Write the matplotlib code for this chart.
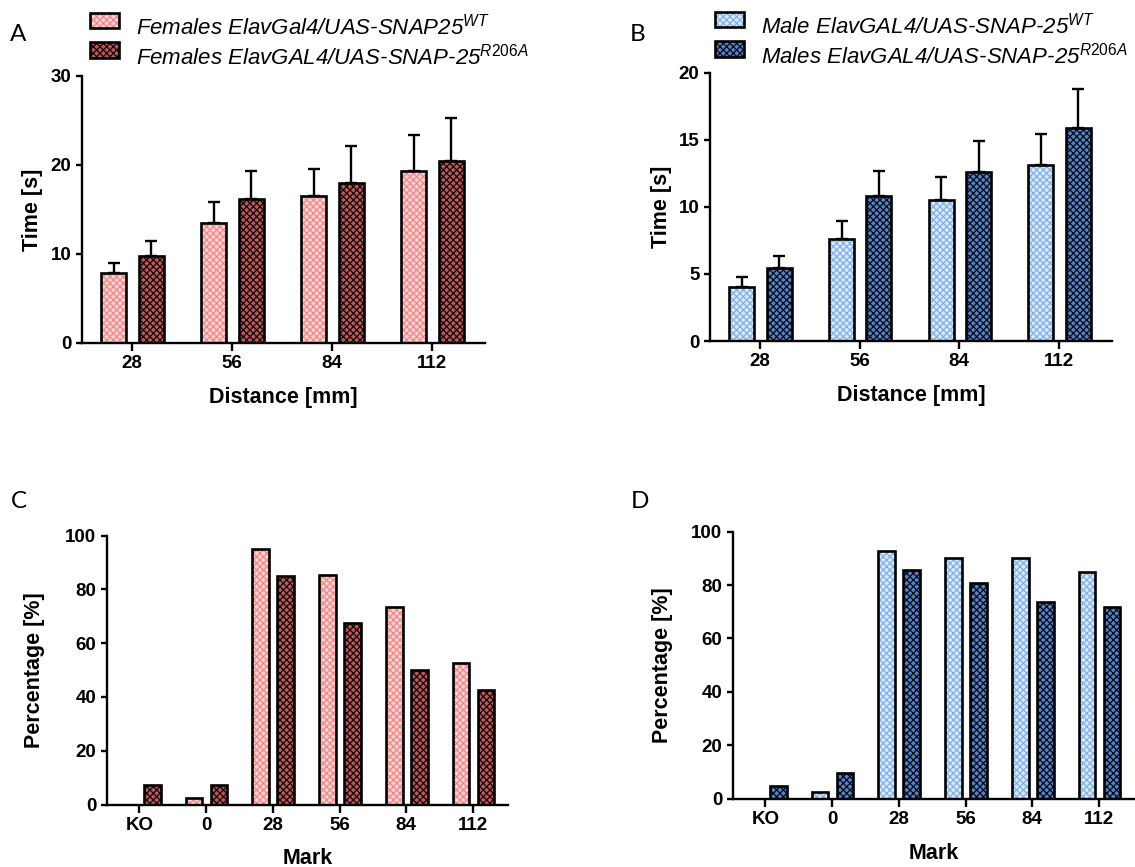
import matplotlib
matplotlib.use("Agg")
import matplotlib.pyplot as plt
from matplotlib.patches import Patch, Rectangle
from matplotlib.legend_handler import HandlerPatch
import numpy as np

# ---------------- data ----------------
dist_labels = ["28", "56", "84", "112"]
mark_labels = ["KO", "0", "28", "56", "84", "112"]

fem_wt_time = [7.8, 13.5, 16.5, 19.3]
fem_wt_err = [1.2, 2.3, 3.0, 4.1]
fem_r_time = [9.7, 16.2, 18.0, 20.4]
fem_r_err = [1.7, 3.1, 4.1, 4.9]

male_wt_time = [4.0, 7.6, 10.5, 13.1]
male_wt_err = [0.75, 1.35, 1.7, 2.3]
male_r_time = [5.45, 10.8, 12.6, 15.9]
male_r_err = [0.85, 1.9, 2.3, 2.9]

fem_wt_pct = [0, 2.5, 95.0, 85.3, 73.6, 52.6]
fem_r_pct = [7.4, 7.4, 84.9, 67.7, 50.2, 42.6]
male_wt_pct = [0, 2.5, 92.6, 90.0, 90.0, 85.0]
male_r_pct = [4.6, 9.5, 85.7, 80.9, 73.6, 71.7]

lab_fem_wt = r"Females ElavGal4/UAS-SNAP25$^{\mathit{WT}}$"
lab_fem_r = r"Females ElavGAL4/UAS-SNAP-25$^{\mathit{R206A}}$"
lab_male_wt = r"Male ElavGAL4/UAS-SNAP-25$^{\mathit{WT}}$"
lab_male_r = r"Males ElavGAL4/UAS-SNAP-25$^{\mathit{R206A}}$"

# ---------------- style ----------------
plt.rcParams["font.family"] = ["Liberation Sans", "DejaVu Sans"]
plt.rcParams["mathtext.fontset"] = "custom"
plt.rcParams["mathtext.rm"] = "Liberation Sans"
plt.rcParams["mathtext.it"] = "Liberation Sans:italic"
plt.rcParams["mathtext.bf"] = "Liberation Sans:bold"
plt.rcParams["hatch.linewidth"] = 0.9

PINK_L = dict(face="#fbd2d2", hatch="#f08888")
PINK_D = dict(face="#bd5858", hatch="#120303")
BLUE_L = dict(face="#d8e9fc", hatch="#80b0ea")
BLUE_D = dict(face="#5485c2", hatch="#03081a")

HATCH = "xxxxx"
EDGE_LW = 1.9
W = 0.25
OFF_L, OFF_R = -0.18, 0.195


def hbar(ax, x, h, style):
    ax.bar(x, h, W, color=style["face"], edgecolor=style["hatch"],
           hatch=HATCH, linewidth=0, zorder=2)
    ax.bar(x, h, W, fill=False, edgecolor="black", linewidth=EDGE_LW,
           zorder=3)


def proxy(style):
    return (Patch(facecolor=style["face"], edgecolor=style["hatch"],
                  hatch=HATCH, linewidth=0),
            Patch(fill=False, edgecolor="black", linewidth=EDGE_LW))


def raised_patch(legend, orig_handle, xdescent, ydescent, width, height,
                 fontsize):
    return Rectangle((-xdescent, -ydescent + 0.42 * height), width, height)


def style_axes(ax, labels, ylim, yticks, xlim):
    for s in ["top", "right"]:
        ax.spines[s].set_visible(False)
    for s in ["left", "bottom"]:
        ax.spines[s].set_linewidth(1.7)
    ax.set_xlim(*xlim)
    ax.set_ylim(*ylim)
    ax.set_yticks(yticks)
    ax.set_xticks(np.arange(len(labels)))
    ax.set_xticklabels(labels)
    ax.tick_params(axis="y", direction="out", length=4.5, width=1.7, pad=3,
                   labelsize=13.5)
    ax.tick_params(axis="x", direction="out", length=6, width=1.7, pad=3,
                   labelsize=13.5)
    for t in ax.get_xticklabels() + ax.get_yticklabels():
        t.set_fontweight("bold")


fig = plt.figure(figsize=(11.35, 8.67), dpi=100)
FW, FH = 1135.0, 867.0


def add_axes(l, r, t, b):
    return fig.add_axes([l / FW, 1 - b / FH, (r - l) / FW, (b - t) / FH])


axA = add_axes(81.7, 485, 76, 342.7)
axB = add_axes(710, 1111.7, 72.7, 341)
axC = add_axes(106.7, 508.3, 535.7, 804.5)
axD = add_axes(732.7, 1134.3, 531.7, 798.5)


# ---------------- A & B: time ----------------
def time_panel(ax, wt, wt_err, r, r_err, sl, sd, ylim, yticks, lab_wt, lab_r,
               ylab_x, xlab_y, leg_xy):
    x = np.arange(len(dist_labels))
    hbar(ax, x + OFF_L, wt, sl)
    hbar(ax, x + OFF_R, r, sd)
    for xs, vals, errs in [(x + OFF_L, wt, wt_err), (x + OFF_R, r, r_err)]:
        ax.errorbar(xs, vals, yerr=[np.zeros(len(vals)), errs], fmt="none",
                    ecolor="black", elinewidth=1.7, capsize=4.5,
                    capthick=1.7, zorder=1)
    style_axes(ax, dist_labels, ylim, yticks, (-0.5, 3.53))
    ax.set_ylabel("Time [s]", fontsize=15.5, fontweight="bold")
    ax.set_xlabel("Distance [mm]", fontsize=15.5, fontweight="bold")
    ax.yaxis.set_label_coords(ylab_x, 0.5)
    ax.xaxis.set_label_coords(0.5, xlab_y)
    leg = ax.legend([proxy(sl), proxy(sd)], [lab_wt, lab_r],
                    handler_map={Patch: HandlerPatch(patch_func=raised_patch)},
                    loc="upper left", bbox_to_anchor=leg_xy,
                    bbox_transform=fig.transFigure, frameon=False,
                    fontsize=16, borderpad=0, borderaxespad=0,
                    handlelength=1.3, handleheight=0.72, handletextpad=0.75,
                    labelspacing=0.18)
    for t in leg.get_texts():
        t.set_fontstyle("italic")


time_panel(axA, fem_wt_time, fem_wt_err, fem_r_time, fem_r_err, PINK_L,
           PINK_D, (0, 30), [0, 10, 20, 30], lab_fem_wt, lab_fem_r,
           -0.096, -0.166, (90 / FW, 1 - 14 / FH))
time_panel(axB, male_wt_time, male_wt_err, male_r_time, male_r_err, BLUE_L,
           BLUE_D, (0, 20), [0, 5, 10, 15, 20], lab_male_wt, lab_male_r,
           -0.095, -0.164, (715 / FW, 1 - 13 / FH))


# ---------------- C & D: percentage ----------------
def pct_panel(ax, wt, r, sl, sd, ylab_x, xlab_y):
    x = np.arange(len(mark_labels))
    hbar(ax, x + OFF_L, wt, sl)
    hbar(ax, x + OFF_R, r, sd)
    style_axes(ax, mark_labels, (0, 100), [0, 20, 40, 60, 80, 100],
               (-0.49, 5.53))
    ax.set_ylabel("Percentage [%]", fontsize=15.5, fontweight="bold")
    ax.set_xlabel("Mark", fontsize=15.5, fontweight="bold")
    ax.yaxis.set_label_coords(ylab_x, 0.5)
    ax.xaxis.set_label_coords(0.5, xlab_y)


pct_panel(axC, fem_wt_pct, fem_r_pct, PINK_L, PINK_D, -0.154, -0.162)
pct_panel(axD, male_wt_pct, male_r_pct, BLUE_L, BLUE_D, -0.149, -0.167)

# ---------------- panel letters ----------------
for letter, px, py in [("A", 10, 41), ("B", 630, 41), ("C", 11, 508),
                       ("D", 631, 508)]:
    fig.text(px / FW, 1 - py / FH, letter, fontsize=17.5, va="baseline",
             ha="left", family=["Lato", "DejaVu Sans"])

fig.savefig("out.png", dpi=100)
